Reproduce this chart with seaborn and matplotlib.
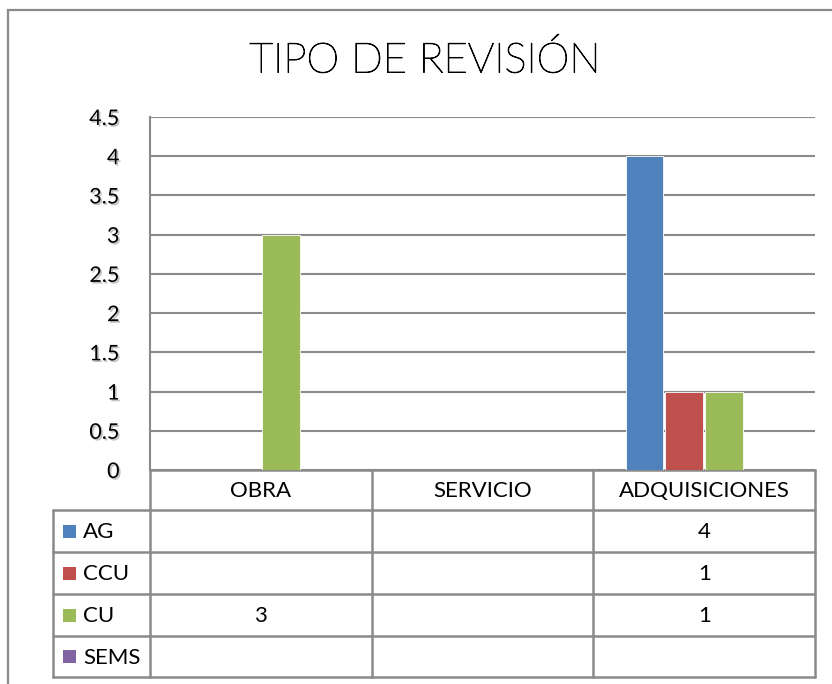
import matplotlib
matplotlib.use('Agg')
import matplotlib.pyplot as plt
import matplotlib.patheffects as pe
import seaborn as sns
import pandas as pd
import numpy as np

# Datos del gráfico
categorias = ['OBRA', 'SERVICIO', 'ADQUISICIONES']
series = ['AG', 'CCU', 'CU', 'SEMS']
ag = [np.nan, np.nan, 4]
ccu = [np.nan, np.nan, 1]
cu = [3, np.nan, 1]
sems = [np.nan, np.nan, np.nan]
colores = ['#4F81BD', '#C0504D', '#9BBB59', '#8064A2']
titulo = 'TIPO DE REVISIÓN'
y_ticks = [0, 0.5, 1, 1.5, 2, 2.5, 3, 3.5, 4, 4.5]

valores = {'AG': ag, 'CCU': ccu, 'CU': cu, 'SEMS': sems}
filas = []
for s in series:
    for c, v in zip(categorias, valores[s]):
        filas.append({'categoria': c, 'serie': s, 'valor': v})
df = pd.DataFrame(filas)

sns.set_theme(style='white')
plt.rcParams['font.family'] = ['Lato', 'DejaVu Sans']

W, H = 832, 684
fig = plt.figure(figsize=(W / 100, H / 100), dpi=100)
gris = '#8a8a8a'

# capa en píxeles para el marco y la tabla
cap = fig.add_axes([0, 0, 1, 1], zorder=0)
cap.set_xlim(0, W)
cap.set_ylim(H, 0)
cap.axis('off')

# área del gráfico
x0, x1, y_top, y0 = 150, 815, 117, 470
ax = fig.add_axes([x0 / W, 1 - y0 / H, (x1 - x0) / W, (y0 - y_top) / H], zorder=1)
ax.patch.set_alpha(0)
sns.barplot(data=df, x='categoria', y='valor', hue='serie', order=categorias,
            hue_order=series, palette=colores, saturation=1, width=0.72, gap=0.06,
            errorbar=None, legend=False, ax=ax, edgecolor='white', linewidth=0.6,
            zorder=3)
for b in ax.patches:
    b.set_path_effects([pe.SimplePatchShadow(offset=(1, -1), shadow_rgbFace='#999999', alpha=0.35), pe.Normal()])
ax.set_xlim(-0.5, len(categorias) - 0.5)
ax.set_ylim(0, 4.5)
ax.set_yticks(y_ticks)
sombra = [pe.SimplePatchShadow(offset=(1.2, -1.2), shadow_rgbFace='#777777', alpha=0.45), pe.Normal()]
ax.set_yticklabels([f'{v:g}' for v in y_ticks], fontsize=15.5, color='black')
for t in ax.get_yticklabels():
    t.set_path_effects(sombra)
ax.tick_params(axis='y', length=0, pad=22)
ax.set_xticks([])
ax.set_xlabel('')
ax.set_ylabel('')
ax.grid(axis='y', color=gris, linewidth=1.5, zorder=0)
ax.set_axisbelow(True)
for lado in ['top', 'right', 'bottom']:
    ax.spines[lado].set_visible(False)
ax.spines['left'].set_color(gris)
ax.spines['left'].set_linewidth(1.5)

cap.text(425, 61, titulo, ha='center', va='center', fontsize=30, color='black',
         fontweight='light',
         path_effects=[pe.withStroke(linewidth=0.7, foreground='black')])

# marco exterior
cap.plot([8, 8, W], [H, 10, 10], color=gris, lw=1.6, solid_joinstyle='miter')

# tabla de datos
col_x = [x0 + i * (x1 - x0) / len(categorias) for i in range(len(categorias) + 1)]
tab_left = 53
fila_y = [470, 510, 552, 594, 636, 677]
lw_t = 1.8
cap.plot([col_x[0], col_x[-1]], [fila_y[0], fila_y[0]], color=gris, lw=lw_t)
for xv in col_x:
    cap.plot([xv, xv], [fila_y[0], fila_y[-1]], color=gris, lw=lw_t)
for yv in fila_y[1:]:
    cap.plot([tab_left, col_x[-1]], [yv, yv], color=gris, lw=lw_t)
cap.plot([tab_left, tab_left], [fila_y[1], fila_y[-1]], color=gris, lw=lw_t)

fs = 16
for i, c in enumerate(categorias):
    cap.text((col_x[i] + col_x[i + 1]) / 2, (fila_y[0] + fila_y[1]) / 2 + 1, c,
             ha='center', va='center', fontsize=fs, color='black')

for j, s in enumerate(series):
    yc = (fila_y[j + 1] + fila_y[j + 2]) / 2
    cap.add_patch(plt.Rectangle((63, yc - 6.5), 13, 13, color=colores[j], lw=0))
    cap.text(83, yc + 1, s, ha='left', va='center', fontsize=fs, color='black')
    for i, v in enumerate(valores[s]):
        if not np.isnan(v):
            cap.text((col_x[i] + col_x[i + 1]) / 2, yc + 1, f'{v:g}',
                     ha='center', va='center', fontsize=fs, color='black')

fig.savefig('out.png', dpi=100, facecolor='white')
